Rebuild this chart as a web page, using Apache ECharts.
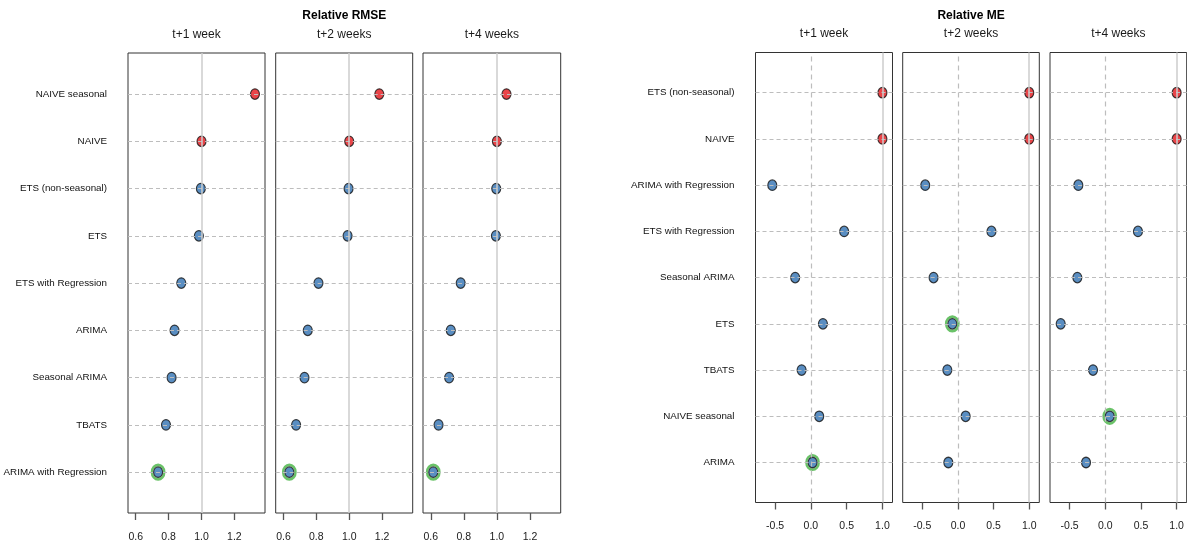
<!DOCTYPE html>
<html><head><meta charset="utf-8">
<script src="https://cdn.jsdelivr.net/npm/echarts@6/dist/echarts.min.js"></script>
<style>html,body{margin:0;padding:0;background:#fff}#c{width:1187px;height:546px}</style>
</head><body><div id="c"></div>
<script>
// ---- data (rows listed top to bottom) ----
const horizons = ['t+1 week', 't+2 weeks', 't+4 weeks'];
const rmseTitle = 'Relative RMSE';
const meTitle = 'Relative ME';
const rmseCategories = ['NAIVE seasonal', 'NAIVE', 'ETS (non-seasonal)', 'ETS', 'ETS with Regression', 'ARIMA', 'Seasonal ARIMA', 'TBATS', 'ARIMA with Regression'];
const rmseWeek1 = [1.325, 1.00, 0.996, 0.984, 0.877, 0.836, 0.818, 0.784, 0.736];
const rmseWeek2 = [1.183, 1.00, 0.996, 0.990, 0.813, 0.748, 0.728, 0.677, 0.636];
const rmseWeek4 = [1.058, 1.00, 0.996, 0.994, 0.781, 0.721, 0.711, 0.647, 0.615];
const meCategories = ['ETS (non-seasonal)', 'NAIVE', 'ARIMA with Regression', 'ETS with Regression', 'Seasonal ARIMA', 'ETS', 'TBATS', 'NAIVE seasonal', 'ARIMA'];
const meWeek1 = [1.00, 1.00, -0.540, 0.465, -0.220, 0.168, -0.130, 0.116, 0.023];
const meWeek2 = [1.00, 1.00, -0.459, 0.470, -0.342, -0.079, -0.149, 0.108, -0.135];
const meWeek4 = [1.00, 1.00, -0.378, 0.458, -0.392, -0.625, -0.172, 0.062, -0.270];
const rmseTicks = [0.6, 0.8, 1.0, 1.2];
const meTicks = [-0.5, 0.0, 0.5, 1.0];

// ---- layout / style ----
const FONT = "'Liberation Sans', Arial, sans-serif";
const RED = '#e3161c', BLUE = '#3172b3', GREEN = '#45b342';
const DASH = '#bdbdbd', REF = '#cccccc';

const panels = [];
const leftBoxes = [[128, 137], [275.7, 137], [423, 137.7]];
const rightBoxes = [[755.5, 137], [902.7, 136.6], [1050, 136.7]];
[rmseWeek1, rmseWeek2, rmseWeek4].forEach((vals, i) => panels.push({
  vals, cats: rmseCategories, box: leftBoxes[i], top: 53, height: 460,
  min: 0.553, max: 1.386, ticks: rmseTicks, metric: 'rmse', first: i === 0, horizon: horizons[i]
}));
[meWeek1, meWeek2, meWeek4].forEach((vals, i) => panels.push({
  vals, cats: meCategories, box: rightBoxes[i], top: 52.5, height: 450,
  min: -0.775, max: 1.141, ticks: meTicks, metric: 'me', first: i === 0, horizon: horizons[i]
}));

const grid = [], xAxis = [], yAxis = [], series = [], graphic = [];
panels.forEach((p, k) => {
  const n = p.cats.length;
  grid.push({ left: p.box[0], top: p.top, width: p.box[1], height: p.height,
    outerBoundsMode: 'none', containLabel: false,
    show: true, borderColor: '#333', borderWidth: 1, backgroundColor: 'transparent' });
  xAxis.push({ type: 'value', gridIndex: k, min: p.min, max: p.max,
    axisLine: { show: false }, splitLine: { show: false },
    axisTick: { show: true, customValues: p.ticks, length: 7, lineStyle: { color: '#555', width: 1.3 } },
    axisLabel: { show: true, customValues: p.ticks, margin: 18.5,
      formatter: v => v.toFixed(1), fontFamily: FONT, fontSize: 10.5, color: '#1a1a1a' } });
  const rowVals = p.cats.map((c, r) => n - r);
  yAxis.push({ type: 'value', gridIndex: k, min: 0.135, max: n + 0.87,
    axisLine: { show: false }, splitLine: { show: false }, axisTick: { show: false },
    axisLabel: { show: p.first, customValues: rowVals, margin: 21, align: 'right',
      formatter: v => p.cats[n - Math.round(v)], fontFamily: FONT, fontSize: 9.8, color: '#111' } });

  // reference lines
  const ml = rowVals.map(y => ({ yAxis: y, lineStyle: { color: DASH, type: [4, 3], width: 1 } }));
  ml.push({ xAxis: 1, lineStyle: { color: REF, type: 'solid', width: 1.5 } });
  if (p.metric === 'me') ml.push({ xAxis: 0, lineStyle: { color: DASH, type: [5, 4], width: 1.2 } });
  series.push({ type: 'scatter', xAxisIndex: k, yAxisIndex: k, data: [], z: 1, silent: true,
    markLine: { silent: true, symbol: ['none', 'none'], label: { show: false }, animation: false, data: ml } });

  // best model ring
  let best = 0;
  p.vals.forEach((v, r) => {
    const score = p.metric === 'me' ? Math.abs(v) : v;
    const bs = p.metric === 'me' ? Math.abs(p.vals[best]) : p.vals[best];
    if (score < bs) best = r;
  });
  series.push({ type: 'scatter', xAxisIndex: k, yAxisIndex: k, z: 2, silent: true,
    symbol: 'circle', symbolSize: [12.5, 14.5],
    itemStyle: { color: 'rgba(0,0,0,0)', borderColor: GREEN, borderWidth: 2.5 },
    data: [[p.vals[best], n - best]] });

  // points
  series.push({ type: 'scatter', xAxisIndex: k, yAxisIndex: k, z: 3, silent: true,
    symbol: 'circle', symbolSize: [9, 10.5],
    data: p.vals.map((v, r) => ({ value: [v, n - r],
      itemStyle: { color: v >= 1 ? RED : BLUE, borderColor: '#111', borderWidth: 1.2 } })) });

  // horizon subtitle
  graphic.push({ type: 'text', x: p.box[0] + p.box[1] / 2, y: p.metric === 'rmse' ? 35 : 34,
    style: { text: p.horizon, textAlign: 'center', textVerticalAlign: 'middle',
      font: '12px ' + FONT, fill: '#1a1a1a' } });
});
graphic.push({ type: 'text', x: (128 + 560.7) / 2, y: 16,
  style: { text: rmseTitle, textAlign: 'center', textVerticalAlign: 'middle', font: 'bold 12px ' + FONT, fill: '#000' } });
graphic.push({ type: 'text', x: (755.5 + 1186.7) / 2, y: 16,
  style: { text: meTitle, textAlign: 'center', textVerticalAlign: 'middle', font: 'bold 12px ' + FONT, fill: '#000' } });

const chart = echarts.init(document.getElementById('c'), null, { renderer: 'canvas' });
chart.setOption({ animation: false, backgroundColor: '#fff', grid, xAxis, yAxis, series, graphic });
</script></body></html>
